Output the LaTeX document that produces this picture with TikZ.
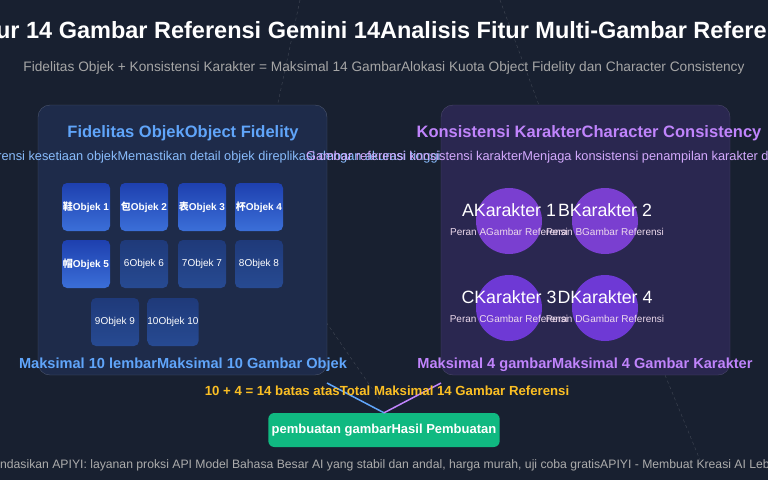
\documentclass[tikz,border=0pt]{standalone}
\usepackage{fontspec}
\setmainfont{Liberation Sans}
\newfontfamily\cjk{Noto Sans CJK SC}
\begin{document}
\begin{tikzpicture}[x=1pt,y=-1pt,
  obj/.style={rounded corners=5pt,minimum size=48pt,inner sep=0pt,text=white,font=\fontsize{10}{12}\selectfont},
  objhi/.style={obj,top color=hib,bottom color=hit,font=\fontsize{10}{12}\selectfont\bfseries},
  objlo/.style={obj,top color=lob,bottom color=lot},
  chr/.style={circle,minimum size=66pt,inner sep=0pt,fill=chc},
  clab/.style={text=white,font=\fontsize{17.8}{20}\selectfont},
  csub/.style={text=white!85!violet,font=\fontsize{10}{12}\selectfont}]
\definecolor{bg}{HTML}{182030}
\definecolor{lpan}{HTML}{1E2B4A}
\definecolor{rpan}{HTML}{2A2750}
\definecolor{bl}{HTML}{60A5FA}
\definecolor{pu}{HTML}{C084FC}
\definecolor{yl}{HTML}{FBBF24}
\definecolor{gr}{HTML}{10B981}
\definecolor{hib}{HTML}{1E40AF}
\definecolor{hit}{HTML}{3B6FD8}
\definecolor{lob}{HTML}{1F3A7A}
\definecolor{lot}{HTML}{274A92}
\definecolor{chc}{HTML}{7A3FD0}
\useasboundingbox (0,0) rectangle (768,480);
\clip (0,0) rectangle (768,480);
\fill[bg] (0,0) rectangle (768,480);
\foreach \a/\b in {{(300,0)}/{(240,280)},{(500,0)}/{(600,270)},{(200,140)}/{(380,400)},{(560,120)}/{(700,460)}}
  \draw[white!18!bg,dashed,thin] \a -- \b;
\fill[lpan,rounded corners=12pt,draw=lpan!80!white] (38,105) rectangle (327,375);
\fill[rpan,rounded corners=12pt,draw=rpan!85!white] (441,105) rectangle (730,375);
\node[font=\fontsize{23.5}{28}\selectfont\bfseries,text=white] (title) at (384,30) {Fitur 14 Gambar Referensi Gemini 14Analisis Fitur Multi-Gambar Referensi};
\node[font=\fontsize{13.7}{16}\selectfont,text=gray!70!white] (sub) at (384,68) {Fidelitas Objek + Konsistensi Karakter = Maksimal 14 GambarAlokasi Kuota Object Fidelity dan Character Consistency};
\node[font=\fontsize{16.5}{20}\selectfont\bfseries,text=bl] (lt) at (183,133) {Fidelitas ObjekObject Fidelity};
\node[font=\fontsize{16.5}{20}\selectfont\bfseries,text=pu] (rt) at (589,133) {Konsistensi KarakterCharacter Consistency};
\node[font=\fontsize{12.8}{15}\selectfont,text=bl!75!white] (ls) at (183,157) {Gambar referensi kesetiaan objekMemastikan detail objek direplikasi dengan akurasi tinggi};
\node[font=\fontsize{12.8}{15}\selectfont,text=pu!70!white] (rs) at (589,157) {Gambar referensi konsistensi karakterMenjaga konsistensi penampilan karakter di berbagai gambar};
\node[objhi] (o1) at (86,207) {{\cjk\bfseries 鞋}Objek 1};
\node[objhi] (o2) at (144,207) {{\cjk 包}Objek 2};
\node[objhi] (o3) at (202,207) {{\cjk 表}Objek 3};
\node[objhi] (o4) at (259,207) {{\cjk 杯}Objek 4};
\node[objhi] (o5) at (86,264) {{\cjk 帽}Objek 5};
\node[objlo] (o6) at (144,264) {6Objek 6};
\node[objlo] (o7) at (202,264) {7Objek 7};
\node[objlo] (o8) at (259,264) {8Objek 8};
\node[objlo] (o9) at (115,322) {9Objek 9};
\node[objlo] (o10) at (173,322) {10Objek 10};
\node[chr] (c1) at (509,221) {};
\node[chr] (c2) at (605,221) {};
\node[chr,fill=chc!90!blue] (c3) at (509,308) {};
\node[chr,fill=chc!90!blue] (c4) at (605,308) {};
\foreach \c/\l/\n in {c1/A/1,c2/B/2,c3/C/3,c4/D/4}{
  \node[clab] at ([yshift=11pt]\c) {\l Karakter \n};
  \node[csub] at ([yshift=-11pt]\c) {Peran \l Gambar Referensi};
}
\node[font=\fontsize{14.6}{17}\selectfont\bfseries,text=bl] (lb) at (183,365) {Maksimal 10 lembarMaksimal 10 Gambar Objek};
\node[font=\fontsize{14.6}{17}\selectfont\bfseries,text=pu] (rb) at (585,365) {Maksimal 4 gambarMaksimal 4 Gambar Karakter};
\node[fill=gr,rounded corners=6pt,minimum width=133pt,minimum height=34pt,text=white,font=\fontsize{13}{15}\selectfont\bfseries] (res) at (384,430) {pembuatan gambarHasil Pembuatan};
\coordinate (la) at (327,383);
\coordinate (ra) at (441,383);
\draw[bl,line width=1.5pt] (la) -- (res.north);
\draw[pu,line width=1.5pt] (ra) -- (res.north);
\node[font=\fontsize{13.2}{16}\selectfont\bfseries,text=yl] (tot) at (387,391) {10 + 4 = 14 batas atasTotal Maksimal 14 Gambar Referensi};
\node[font=\fontsize{12.2}{14}\selectfont,text=gray!65!white] (foot) at (384,465) {Direkomendasikan APIYI: layanan proksi API Model Bahasa Besar AI yang stabil dan andal, harga murah, uji coba gratisAPIYI - Membuat Kreasi AI Lebih Mudah};
\end{tikzpicture}
\end{document}
